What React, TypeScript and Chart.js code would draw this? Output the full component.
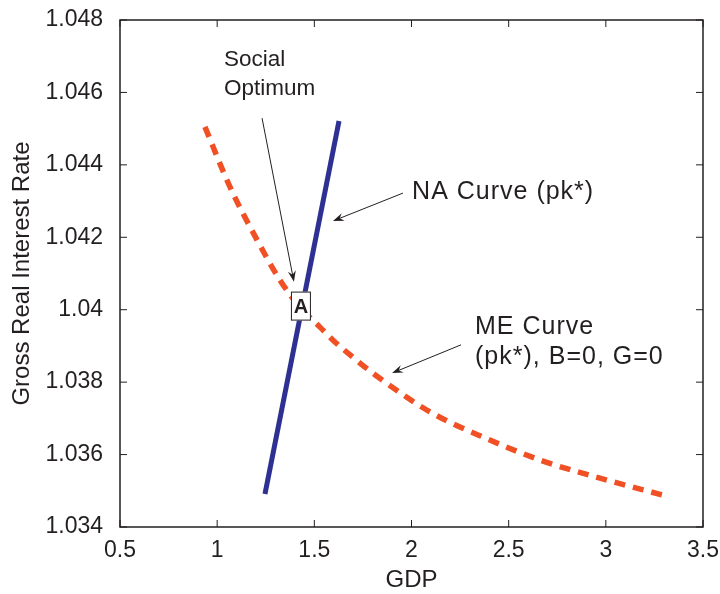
import React, { useEffect, useRef } from 'react';
import { Chart, registerables } from 'chart.js';

Chart.register(...registerables);

// ---- data ----
const gdpTicks = [0.5, 1, 1.5, 2, 2.5, 3, 3.5];
const gdpTickLabels = ['0.5', '1', '1.5', '2', '2.5', '3', '3.5'];
const rateTicks = [1.034, 1.036, 1.038, 1.04, 1.042, 1.044, 1.046, 1.048];
const rateTickLabels = ['1.034', '1.036', '1.038', '1.04', '1.042', '1.044', '1.046', '1.048'];

// NA Curve (pk*) — straight line
const naGdp = [1.246, 1.627];
const naRate = [1.03491, 1.04521];

// ME Curve (pk*), B=0, G=0
const meGdp = [0.937, 1.066, 1.205, 1.323, 1.426, 1.529, 1.596, 1.684, 1.828, 2.095, 2.378, 2.677, 2.97, 3.294];
const meRate = [1.04505, 1.04339, 1.04193, 1.04082, 1.04007, 1.03952, 1.03916, 1.03875, 1.03814, 1.03718, 1.03646, 1.03582, 1.03535, 1.03488];

// annotations (data coordinates)
const socialLabel = { x: 1.035, y1: 1.04689, y2: 1.04609, l1: 'Social', l2: 'Optimum' };
const socialArrow = { x0: 1.231, y0: 1.04529, x1: 1.395, y1: 1.04077 };
const naLabel = { x: 2.003, y: 1.04325, text: 'NA Curve (pk*)' };
const naArrow = { x0: 1.956, y0: 1.04322, x1: 1.596, y1: 1.04245 };
const meLabel = { x: 2.327, y1: 1.03952, y2: 1.03869, l1: 'ME Curve', l2: '(pk*), B=0, G=0' };
const meArrow = { x0: 2.255, y0: 1.03903, x1: 1.9, y1: 1.03825 };
const pointA = { x: 1.431, y: 1.0401, text: 'A' };

const FONT = '"Liberation Sans", Arial, Helvetica, sans-serif';
const TEXT = '#231F20';

function drawArrow(ctx: CanvasRenderingContext2D, x0: number, y0: number, x1: number, y1: number) {
  const ang = Math.atan2(y1 - y0, x1 - x0);
  const len = 11;
  const hw = 4;
  ctx.save();
  ctx.strokeStyle = TEXT;
  ctx.fillStyle = TEXT;
  ctx.lineWidth = 1;
  ctx.beginPath();
  ctx.moveTo(x0, y0);
  ctx.lineTo(x1 - Math.cos(ang) * 6, y1 - Math.sin(ang) * 6);
  ctx.stroke();
  ctx.translate(x1, y1);
  ctx.rotate(ang);
  ctx.beginPath();
  ctx.moveTo(0, 0);
  ctx.lineTo(-len, -hw);
  ctx.lineTo(-len * 0.65, 0);
  ctx.lineTo(-len, hw);
  ctx.closePath();
  ctx.fill();
  ctx.restore();
}

const framePlugin = {
  id: 'frame',
  afterDraw(chart: any) {
    const { ctx, chartArea: a, scales } = chart;
    const xs = scales.x;
    const ys = scales.y;
    ctx.save();
    // box
    ctx.strokeStyle = '#231F20';
    ctx.lineWidth = 1.5;
    ctx.strokeRect(a.left, a.top, a.right - a.left, a.bottom - a.top);
    // inward ticks on all sides
    ctx.lineWidth = 1;
    const tl = 7;
    ctx.beginPath();
    gdpTicks.forEach((v) => {
      const px = xs.getPixelForValue(v);
      ctx.moveTo(px, a.bottom);
      ctx.lineTo(px, a.bottom - tl);
      ctx.moveTo(px, a.top);
      ctx.lineTo(px, a.top + tl);
    });
    rateTicks.forEach((v) => {
      const py = ys.getPixelForValue(v);
      ctx.moveTo(a.left, py);
      ctx.lineTo(a.left + tl, py);
      ctx.moveTo(a.right, py);
      ctx.lineTo(a.right - tl, py);
    });
    ctx.stroke();

    // annotations
    ctx.fillStyle = TEXT;
    ctx.textAlign = 'left';
    ctx.textBaseline = 'middle';
    ctx.font = `22.5px ${FONT}`;
    ctx.fillText(socialLabel.l1, xs.getPixelForValue(socialLabel.x), ys.getPixelForValue(socialLabel.y1));
    ctx.fillText(socialLabel.l2, xs.getPixelForValue(socialLabel.x), ys.getPixelForValue(socialLabel.y2));
    ctx.font = `25px ${FONT}`;
    (ctx as any).letterSpacing = '1px';
    ctx.fillText(naLabel.text, xs.getPixelForValue(naLabel.x), ys.getPixelForValue(naLabel.y));
    ctx.fillText(meLabel.l1, xs.getPixelForValue(meLabel.x), ys.getPixelForValue(meLabel.y1));
    ctx.fillText(meLabel.l2, xs.getPixelForValue(meLabel.x), ys.getPixelForValue(meLabel.y2));
    (ctx as any).letterSpacing = '0px';

    [socialArrow, naArrow, meArrow].forEach((ar) => {
      drawArrow(ctx, xs.getPixelForValue(ar.x0), ys.getPixelForValue(ar.y0), xs.getPixelForValue(ar.x1), ys.getPixelForValue(ar.y1));
    });

    // point A box
    const cx = xs.getPixelForValue(pointA.x);
    const cy = ys.getPixelForValue(pointA.y);
    const bw = 20;
    const bh = 29;
    ctx.fillStyle = '#ffffff';
    ctx.fillRect(cx - bw / 2, cy - bh / 2, bw, bh);
    ctx.strokeStyle = '#231F20';
    ctx.lineWidth = 1;
    ctx.strokeRect(cx - bw / 2 + 0.5, cy - bh / 2 + 0.5, bw - 1, bh - 1);
    ctx.fillStyle = TEXT;
    ctx.font = `bold 20px ${FONT}`;
    ctx.textAlign = 'center';
    ctx.textBaseline = 'middle';
    ctx.fillText(pointA.text, cx, cy + 1);
    ctx.restore();
  },
};

export default function App() {
  const ref = useRef<HTMLCanvasElement | null>(null);

  useEffect(() => {
    document.body.style.margin = '0';
    const canvas = ref.current;
    if (!canvas) return;
    const chart = new Chart(canvas, {
      type: 'scatter',
      data: {
        datasets: [
          {
            label: 'ME Curve',
            data: meGdp.map((x, i) => ({ x, y: meRate[i] })),
            showLine: true,
            borderColor: '#F15025',
            borderWidth: 5.5,
            borderDash: [11, 8],
            borderCapStyle: 'butt',
            pointRadius: 0,
            cubicInterpolationMode: 'monotone',
            fill: false,
          },
          {
            label: 'NA Curve',
            data: naGdp.map((x, i) => ({ x, y: naRate[i] })),
            showLine: true,
            borderColor: '#2E3192',
            borderWidth: 5,
            pointRadius: 0,
            fill: false,
          },
        ],
      },
      options: {
        responsive: false,
        animation: false,
        events: [],
        layout: { padding: { left: 0, top: 20, right: 17, bottom: 0 } },
        plugins: { legend: { display: false }, tooltip: { enabled: false } },
        scales: {
          x: {
            type: 'linear',
            min: 0.5,
            max: 3.5,
            afterBuildTicks: (s: any) => {
              s.ticks = gdpTicks.map((v) => ({ value: v }));
            },
            afterFit: (s: any) => {
              s.height = 67;
              s.paddingLeft = 0;
              s.paddingRight = 0;
            },
            grid: { display: true, drawOnChartArea: false, drawTicks: false, color: 'rgba(0,0,0,0)' },
            border: { display: false },
            ticks: {
              padding: 10,
              maxRotation: 0,
              autoSkip: false,
              color: TEXT,
              font: { family: FONT, size: 23 },
              callback: (_v: any, i: number) => gdpTickLabels[i],
            },
            title: {
              display: true,
              text: 'GDP',
              color: TEXT,
              font: { family: FONT, size: 24, lineHeight: 1 },
              padding: { top: 0, bottom: 2 },
            },
          },
          y: {
            type: 'linear',
            min: 1.034,
            max: 1.048,
            afterBuildTicks: (s: any) => {
              s.ticks = rateTicks.map((v) => ({ value: v }));
            },
            afterFit: (s: any) => {
              s.width = 120;
              s.paddingTop = 0;
              s.paddingBottom = 0;
            },
            grid: { display: true, drawOnChartArea: false, drawTicks: false, color: 'rgba(0,0,0,0)' },
            border: { display: false },
            ticks: {
              padding: 17,
              autoSkip: false,
              color: TEXT,
              font: { family: FONT, size: 23 },
              callback: (_v: any, i: number) => rateTickLabels[i],
            },
            title: {
              display: true,
              text: 'Gross Real Interest Rate',
              color: TEXT,
              font: { family: FONT, size: 24, lineHeight: 1 },
              padding: { top: 10, bottom: 0 },
            },
          },
        },
      },
      plugins: [framePlugin],
    } as any);
    return () => chart.destroy();
  }, []);

  return (
    <div style={{ width: 720, height: 594 }}>
      <canvas ref={ref} width={720} height={594} />
    </div>
  );
}
